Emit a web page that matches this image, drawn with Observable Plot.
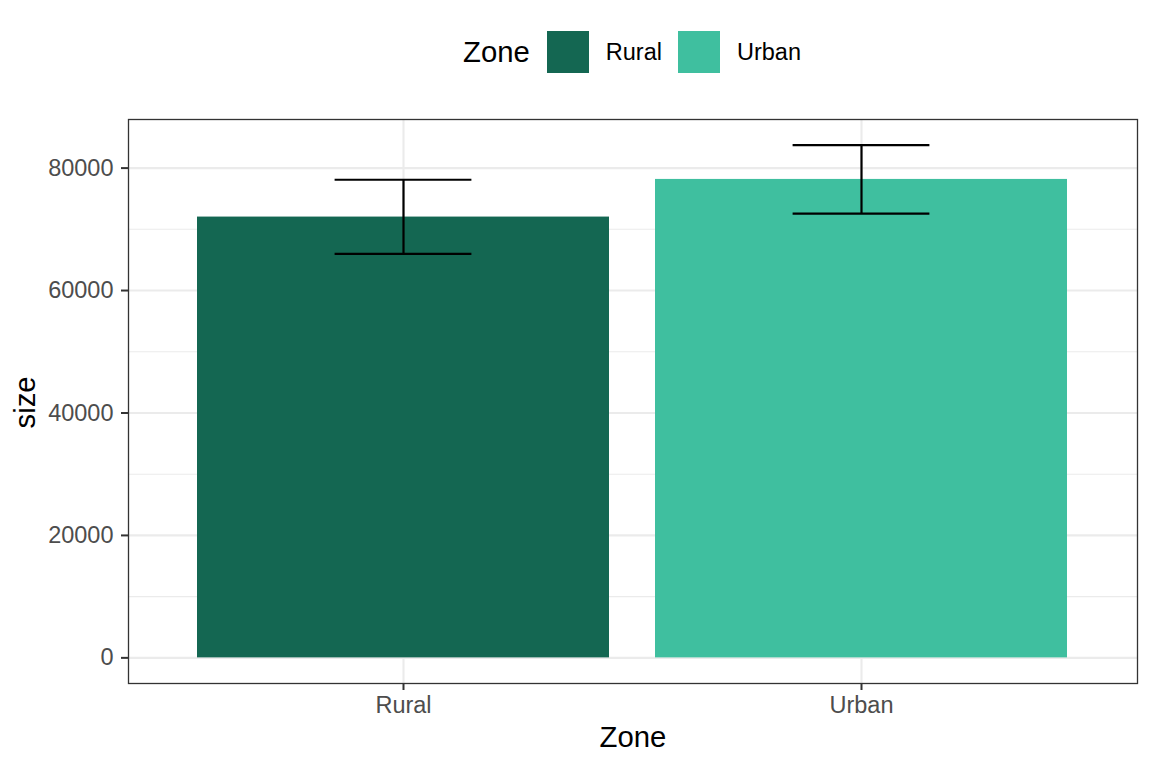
<!DOCTYPE html>
<html>
<head>
<meta charset="utf-8">
<script src="https://cdn.jsdelivr.net/npm/d3@7"></script>
<script src="https://cdn.jsdelivr.net/npm/@observablehq/plot@0.6"></script>
<style>
  html, body { margin: 0; padding: 0; background: #fff; }
  body { width: 1152px; height: 768px; overflow: hidden; font-family: "Liberation Sans", Arial, sans-serif; }
  #legend { position: relative; height: 105px; width: 1152px; }
  #legend .row { position: absolute; left: 463px; top: 31px; height: 42px; display: flex; align-items: center; white-space: nowrap; }
  #legend .title { font-size: 29.3px; color: #000; margin-right: 17px; }
  #legend .key { width: 42px; height: 42px; margin-right: 17px; }
  #legend .lab { font-size: 23.5px; color: #000; margin-right: 16px; }
  svg text { font-family: "Liberation Sans", Arial, sans-serif; }
  g[aria-label="y-axis tick label"] text, g[aria-label="x-axis tick label"] text { fill: #4D4D4D; }
</style>
</head>
<body>
<div id="legend"><div class="row" id="legendRow"></div></div>
<div id="chart"></div>
<script>
// ---- data ----
const zones = ["Rural", "Urban"];
const means = [72000, 78150];
const lows  = [66000, 72550];
const highs = [78100, 83750];
const yTicks = [0, 20000, 40000, 60000, 80000];
const yMinor = [10000, 30000, 50000, 70000];
const zoneColors = ["#146752", "#3FBF9F"];

const table = zones.map((z, i) => ({zone: z, size: means[i], lo: lows[i], hi: highs[i]}));

// ---- legend (HTML, above the svg) ----
const row = document.getElementById("legendRow");
const t = document.createElement("span"); t.className = "title"; t.textContent = "Zone"; row.appendChild(t);
zones.forEach((z, i) => {
  const k = document.createElement("span"); k.className = "key"; k.style.background = zoneColors[i]; row.appendChild(k);
  const l = document.createElement("span"); l.className = "lab"; l.textContent = z; row.appendChild(l);
});

// ---- chart ----
const hiMax = d3.max(highs);
const pad = 0.05 * hiMax;

const chart = Plot.plot({
  width: 1152,
  height: 663,
  marginTop: 14,
  marginBottom: 85,
  marginLeft: 128,
  marginRight: 15,
  style: {fontFamily: "Liberation Sans, Arial, sans-serif", background: "#fff"},
  x: {type: "band", domain: zones, paddingInner: 0.1, paddingOuter: 0.15, align: 0.5},
  y: {domain: [-pad, hiMax + pad]},
  color: {domain: zones, range: zoneColors},
  marks: [
    Plot.ruleY(yMinor, {stroke: "#EBEBEB", strokeWidth: 1.1}),
    Plot.ruleY(yTicks, {stroke: "#EBEBEB", strokeWidth: 2.1}),
    Plot.ruleX(zones, {x: d => d, stroke: "#EBEBEB", strokeWidth: 2.1}),
    Plot.barY(table, {x: "zone", y: "size", fill: "zone"}),
    Plot.ruleX(table, {x: "zone", y1: "lo", y2: "hi", stroke: "#000", strokeWidth: 2.2}),
    Plot.tickY(table, {x: "zone", y: "lo", stroke: "#000", strokeWidth: 2.2, insetLeft: 137.6, insetRight: 137.6}),
    Plot.tickY(table, {x: "zone", y: "hi", stroke: "#000", strokeWidth: 2.2, insetLeft: 137.6, insetRight: 137.6}),
    Plot.frame({stroke: "#333333", strokeWidth: 1.3}),
    Plot.axisY({ticks: yTicks, tickFormat: d3.format("d"), tickSize: 7, tickPadding: 8, fontSize: 23.5, stroke: "#333333", strokeWidth: 2, fill: "#4D4D4D", label: null}),
    Plot.axisX({tickSize: 7, tickPadding: 6, fontSize: 23.5, stroke: "#333333", strokeWidth: 2, fill: "#4D4D4D", label: null}),
    Plot.text(["Zone"], {text: d => d, frameAnchor: "bottom", dy: 63.5, fontSize: 29.3, fill: "#000"}),
    Plot.text(["size"], {text: d => d, frameAnchor: "left", dx: -103, dy: 27, rotate: -90, fontSize: 29.3, fill: "#000"})
  ]
});
document.getElementById("chart").appendChild(chart);
</script>
</body>
</html>
